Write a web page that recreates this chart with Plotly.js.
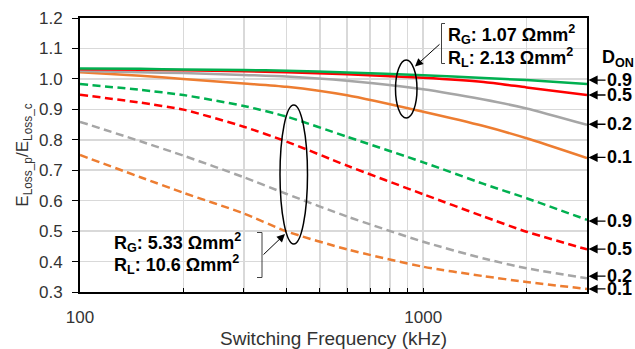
<!DOCTYPE html>
<html>
<head>
<meta charset="utf-8">
<script src="https://cdn.plot.ly/plotly-3.0.1.min.js"></script>
<style>html,body{margin:0;padding:0;background:#fff;}#chart{width:635px;height:349px;}</style>
</head>
<body>
<div id="chart"></div>
<script>
// Switching frequency (kHz)
const freq = [100, 150, 200, 300, 400, 600, 1000, 1500, 2000, 3000];

// Solid: R_G 1.07 Ωmm², R_L 2.13 Ωmm²
const solidD09 = [1.034, 1.033, 1.031, 1.029, 1.027, 1.021, 1.012, 1.003, 0.996, 0.983];
const solidD05 = [1.032, 1.030, 1.028, 1.025, 1.022, 1.015, 1.004, 0.990, 0.972, 0.947];
const solidD02 = [1.026, 1.022, 1.019, 1.013, 1.008, 0.994, 0.966, 0.932, 0.903, 0.849];
const solidD01 = [1.022, 1.010, 1.000, 0.985, 0.974, 0.946, 0.892, 0.845, 0.805, 0.740];

// Dashed: R_G 5.33 Ωmm², R_L 10.6 Ωmm²
const dashD09 = [0.983, 0.964, 0.947, 0.911, 0.876, 0.810, 0.726, 0.655, 0.608, 0.537];
const dashD05 = [0.948, 0.922, 0.899, 0.843, 0.794, 0.715, 0.621, 0.548, 0.498, 0.440];
const dashD02 = [0.859, 0.795, 0.748, 0.677, 0.622, 0.548, 0.465, 0.410, 0.378, 0.345];
const dashD01 = [0.750, 0.677, 0.626, 0.558, 0.499, 0.440, 0.383, 0.352, 0.333, 0.310];

const xTickVals = [100,200,300,400,500,600,700,800,900,1000,2000,3000];
const xTickText = ['100','','','','','','','','','1000','',''];

const dLabels = ['0.9','0.5','0.2','0.1','0.9','0.5','0.2','0.1'];
const dLabelY = [0.996, 0.947, 0.851, 0.742, 0.533, 0.441, 0.352, 0.310];

const GREEN = '#00b050', RED = '#ff0000', GRAY = '#a6a6a6', ORANGE = '#ed7d31';
const DASH = '8px,4.5px';

function tr(y, color, dash) {
  return {x: freq, y: y, type: 'scatter', mode: 'lines',
    line: {color: color, width: 2.5, dash: dash, shape: 'spline', smoothing: 0.6},
    hoverinfo: 'skip', showlegend: false};
}

const data = [
  tr(dashD01, ORANGE, DASH), tr(dashD02, GRAY, DASH), tr(dashD05, RED, DASH), tr(dashD09, GREEN, DASH),
  tr(solidD01, ORANGE, 'solid'), tr(solidD02, GRAY, 'solid'), tr(solidD05, RED, 'solid'), tr(solidD09, GREEN, 'solid')
];

const L = 80, W = 507, T = 18, H = 274;
const px = v => (v - L) / W;
const py = v => (T + H - v) / H;

const FONT = '"Liberation Sans", Arial, sans-serif';
const annotations = [];
function txt(text, x, y, size) {
  annotations.push({text: text, xref: 'paper', yref: 'paper', x: px(x), y: py(y),
    xanchor: 'left', yanchor: 'middle', showarrow: false,
    font: {family: FONT, size: size || 18, color: '#000', weight: 'bold'}});
}
txt('R<sub>G</sub>: 1.07 Ωmm<sup>2</sup>', 446, 34);
txt('R<sub>L</sub>: 2.13 Ωmm<sup>2</sup>', 446, 57.5);
txt('R<sub>G</sub>: 5.33 Ωmm<sup>2</sup>', 112, 242.5);
txt('R<sub>L</sub>: 10.6 Ωmm<sup>2</sup>', 112, 264);
txt('D<sub>ON</sub>', 600, 58);

// pointer arrows
function arrow(hx, hy, tx, ty) {
  annotations.push({text: '', xref: 'paper', yref: 'paper', x: px(hx), y: py(hy),
    ax: tx - hx, ay: ty - hy, showarrow: true, arrowhead: 2, arrowsize: 1.6,
    arrowwidth: 1, arrowcolor: '#000'});
}
arrow(415, 66.5, 441, 43);
arrow(285, 234, 262, 256);

// D_ON labels on the right
dLabels.forEach((lab, i) => {
  annotations.push({text: lab, xref: 'paper', yref: 'y', x: px(588.5), y: dLabelY[i],
    ax: 31, ay: 0, showarrow: true, arrowhead: 2, arrowsize: 1.4, arrowwidth: 1.3,
    arrowcolor: '#000', font: {family: FONT, size: 18, color: '#000', weight: 'bold'}});
});

const shapes = [
  {type: 'line', xref: 'paper', yref: 'y', x0: 0, x1: 1, y0: 1.0, y1: 1.0,
    line: {color: '#6e6e6e', width: 2}, layer: 'below'},
  {type: 'circle', xref: 'paper', yref: 'paper', x0: px(395.5), x1: px(417), y0: py(118), y1: py(60),
    line: {color: '#000', width: 1.5}},
  {type: 'circle', xref: 'paper', yref: 'paper', x0: px(280), x1: px(307.5), y0: py(244), y1: py(105),
    line: {color: '#000', width: 1.5}},
  {type: 'path', xref: 'paper', yref: 'paper',
    path: `M ${px(445)} ${py(23.5)} L ${px(441.5)} ${py(23.5)} L ${px(441.5)} ${py(63.5)} L ${px(445)} ${py(63.5)}`,
    line: {color: '#404040', width: 1}},
  {type: 'path', xref: 'paper', yref: 'paper',
    path: `M ${px(257)} ${py(232.5)} L ${px(262)} ${py(232.5)} L ${px(262)} ${py(277.5)} L ${px(257)} ${py(277.5)}`,
    line: {color: '#404040', width: 1}}
];

const layout = {
  width: 635, height: 349,
  margin: {l: 80, r: 48, t: 18, b: 57, pad: 0},
  paper_bgcolor: '#fff', plot_bgcolor: '#fff',
  font: {family: FONT, size: 17, color: '#333'},
  showlegend: false,
  xaxis: {
    type: 'log', range: [2, Math.log10(3000)],
    tickmode: 'array', tickvals: xTickVals, ticktext: xTickText,
    ticks: 'inside', ticklen: 4, tickcolor: '#000', tickwidth: 1,
    ticklabelstandoff: 9,
    showgrid: true, gridcolor: '#d9d9d9', gridwidth: 1.5,
    showline: true, linecolor: '#000', linewidth: 2, mirror: true,
    zeroline: false,
    tickfont: {family: FONT, size: 17, color: '#333'},
    title: {text: 'Switching Frequency (kHz)', font: {family: FONT, size: 19, color: '#333'}, standoff: 8}
  },
  yaxis: {
    range: [0.3, 1.2], dtick: 0.1, tick0: 0.3, tickformat: '.1f',
    ticks: 'outside', ticklen: 6, tickcolor: '#000', tickwidth: 1,
    ticklabelstandoff: 6,
    showgrid: true, gridcolor: '#d9d9d9', gridwidth: 1.5,
    showline: true, linecolor: '#000', linewidth: 2, mirror: true,
    zeroline: false,
    tickfont: {family: FONT, size: 17, color: '#333'},
    title: {text: 'E<sub>Loss_p</sub>/E<sub>Loss_c</sub>', font: {family: FONT, size: 17, color: '#333'}, standoff: 6}
  },
  shapes: shapes,
  annotations: annotations
};

Plotly.newPlot('chart', data, layout, {staticPlot: true, displayModeBar: false});
</script>
</body>
</html>
